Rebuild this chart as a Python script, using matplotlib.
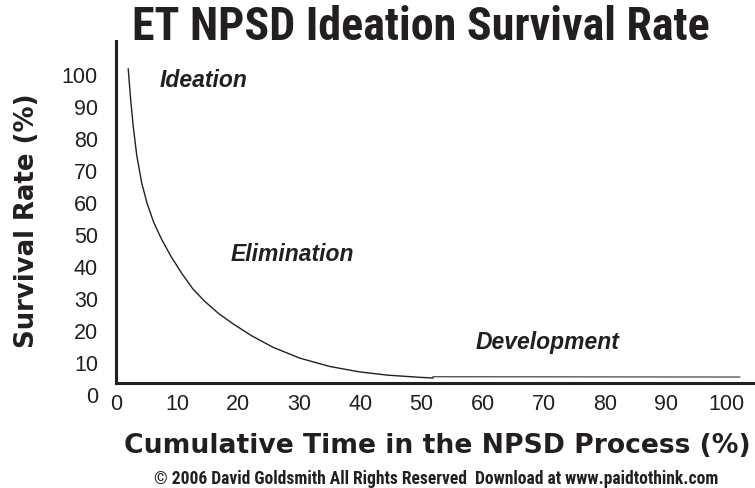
import matplotlib
matplotlib.use("Agg")
import matplotlib.pyplot as plt
from matplotlib import font_manager

# survival curve (time %, survival %)
time_pct = [2.0, 2.4, 2.8, 3.4, 4.2, 5.1, 6.2, 7.5, 9.0, 10.8, 12.6, 14.5, 16.7,
            19.1, 22.2, 25.7, 30.1, 35.0, 39.9, 44.4, 49.8, 51.9]
survival = [101.6, 92.0, 84.0, 74.5, 66.0, 59.5, 53.5, 48.2, 43.0, 37.6, 32.8, 29.0,
            25.3, 22.0, 18.2, 14.6, 11.2, 8.6, 6.9, 5.9, 5.2, 5.0]

# flat development stretch
dev_time = [51.9, 102.1]
dev_survival = [5.4, 5.3]

x_ticks = [0, 10, 20, 30, 40, 50, 60, 70, 80, 90, 100]
y_ticks = [0, 10, 20, 30, 40, 50, 60, 70, 80, 90, 100]

phases = ["Ideation", "Elimination", "Development"]
phase_x = [7.2, 18.7, 58.8]
phase_y = [98.4, 43.75, 16.25]

INK = "#231f20"
SANS = "Liberation Sans"


def pick_font(names):
    for name in names:
        try:
            font_manager.findfont(font_manager.FontProperties(family=name),
                                  fallback_to_default=False)
            return name
        except ValueError:
            pass
    return "DejaVu Sans"


NARROW = pick_font(["Liberation Sans Narrow", "DejaVu Sans Condensed", "Roboto Condensed", "DejaVu Sans"])

fig = plt.figure(figsize=(7.55, 4.89), dpi=100)
ax = fig.add_axes([116 / 755, 1 - 395 / 489, 1 - 116 / 755, (395 - 42) / 489])

ax.plot(time_pct, survival, color=INK, lw=1.0)
ax.plot(dev_time, dev_survival, color="#444444", lw=0.9)

ax.set_xlim(0, 104.6)
ax.set_ylim(0, 110.3)

ax.spines["top"].set_visible(False)
ax.spines["right"].set_visible(False)
for side in ["left", "bottom"]:
    ax.spines[side].set_linewidth(2.2)
    ax.spines[side].set_color(INK)
ax.spines["bottom"].set_position(("data", 3.4))
ax.spines["left"].set_bounds(3.4, 110.3)

ax.set_xticks(x_ticks)
ax.set_yticks(y_ticks)
ax.set_xticklabels([str(t) for t in x_ticks])
ax.set_yticklabels([str(t) for t in y_ticks])
ax.tick_params(axis="both", length=0, labelsize=15.5, labelcolor=INK)
ax.tick_params(axis="y", pad=13)
ax.tick_params(axis="x", pad=7)
for lab in ax.get_xticklabels() + ax.get_yticklabels():
    lab.set_fontfamily(SANS)

for name, px, py in zip(phases, phase_x, phase_y):
    ax.text(px, py, name, fontsize=16.5, fontweight="bold", fontstyle="italic",
            family=SANS, color=INK, ha="left", va="center")

ylab = fig.text(27 / 755, 1 - 221 / 489, "Survival Rate (%)", rotation=90,
                fontsize=17, fontweight="bold", family="DejaVu Sans", color=INK,
                ha="center", va="center")
xlab = fig.text(437 / 755, 1 - 446 / 489, "Cumulative Time in the NPSD Process (%)",
                fontsize=17, fontweight="bold", family="DejaVu Sans", color=INK,
                ha="center", va="center")
title = fig.text(421 / 755, 1 - 27 / 489, "ET NPSD Ideation Survival Rate",
                 fontsize=30, fontweight="bold", family=NARROW, color=INK,
                 ha="center", va="center")
foot = fig.text(436 / 755, 1 - 479 / 489,
                "\u00a9 2006 David Goldsmith All Rights Reserved  Download at www.paidtothink.com",
                fontsize=12, fontweight="bold", family=NARROW, color=INK,
                ha="center", va="center")

# size the long texts to the widths they take in the reference
fig.canvas.draw()
renderer = fig.canvas.get_renderer()
for txt, target, use_h in [(ylab, 255, True), (xlab, 627, False), (title, 577, False), (foot, 565, False)]:
    bb = txt.get_window_extent(renderer)
    span = bb.height if use_h else bb.width
    txt.set_fontsize(txt.get_fontsize() * target / span)

fig.savefig("out.png", dpi=100)
